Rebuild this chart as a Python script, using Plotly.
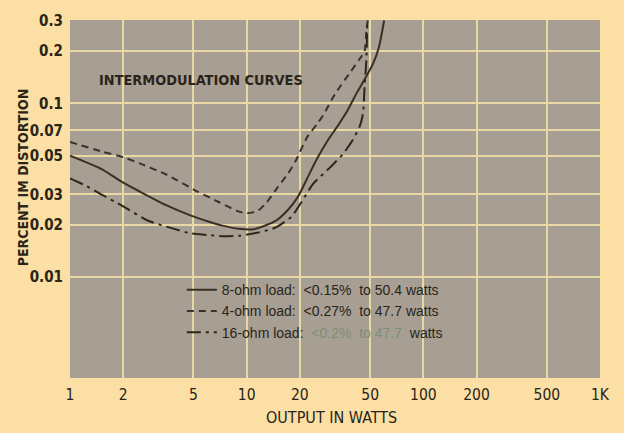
import numpy as np
import plotly.graph_objects as go

# ---- data ----
w_8ohm = [1, 1.5, 2, 2.5, 3.5, 4.8, 6, 7.3, 9, 11, 14.5, 17, 19.5, 22, 25, 29, 33, 37, 42, 47, 52, 56, 60]
d_8ohm = [0.050, 0.042, 0.035, 0.031, 0.026, 0.0227, 0.021, 0.0198, 0.019, 0.0189, 0.021, 0.0242,
          0.029, 0.037, 0.048, 0.062, 0.075, 0.09, 0.115, 0.14, 0.17, 0.21, 0.30]

w_4ohm = [1, 1.5, 2, 2.5, 3.5, 5.3, 7, 8.9, 10, 11.5, 13, 15, 17, 19, 22, 25, 27, 31.6, 38, 43.6, 46.5, 47.7, 48.5]
d_4ohm = [0.060, 0.053, 0.049, 0.045, 0.039, 0.031, 0.027, 0.024, 0.0233, 0.024, 0.027, 0.033,
          0.039, 0.047, 0.064, 0.076, 0.085, 0.113, 0.148, 0.18, 0.20, 0.27, 0.30]

w_16ohm = [1, 1.2, 1.5, 2, 2.75, 3.8, 4.8, 6, 7.3, 9, 11.4, 14, 15, 18, 20.5, 23.7, 30, 35, 40,
           43.8, 45.6, 46.5, 47.6, 48.1, 48.3]
d_16ohm = [0.037, 0.034, 0.030, 0.0256, 0.0212, 0.0191, 0.0179, 0.0175, 0.0172, 0.0173, 0.018,
           0.019, 0.0196, 0.0224, 0.0272, 0.0343, 0.0433, 0.051, 0.062, 0.0746, 0.088, 0.125,
           0.178, 0.27, 0.30]

names = [
    "8-ohm load:  &lt;0.15%  to 50.4 watts",
    "4-ohm load:  &lt;0.27%  to 47.7 watts",
    "16-ohm load: <span style='color:#7d8f72'> &lt;0.2%  to 47.7 </span> watts",
]

x_tickvals = [1, 2, 5, 10, 20, 50, 100, 200, 500, 1000]
x_ticktext = ["1", "2", "5", "10", "20", "50", "100", "200", "500", "1K"]
y_tickvals = [0.3, 0.2, 0.1, 0.07, 0.05, 0.03, 0.02, 0.01]
y_ticktext = ["0.3", "0.2", "0.1", "0.07", "0.05", "0.03", "0.02", "0.01"]

INK = "#2b2418"
PAPER = "#fbdfa4"
PLOTBG = "#a89f94"
GRID = "#e8d9a2"
COND = "DejaVu Sans Condensed, Liberation Sans Narrow, sans-serif"
SANS = "Liberation Sans, Arial, sans-serif"

fig = go.Figure()
fig.add_trace(go.Scatter(x=w_8ohm, y=d_8ohm, mode="lines", name=names[0],
                         line=dict(color="#3a2f22", width=2, shape="spline", smoothing=0.6)))
fig.add_trace(go.Scatter(x=w_4ohm, y=d_4ohm, mode="lines", name=names[1],
                         line=dict(color="#3a3128", width=2, dash="7px,5px", shape="spline", smoothing=0.6)))
fig.add_trace(go.Scatter(x=w_16ohm, y=d_16ohm, mode="lines", name=names[2],
                         line=dict(color="#2e261b", width=2, dash="14px,5px,3px,5px", shape="spline", smoothing=0.6)))

fig.update_layout(
    width=624, height=433,
    margin=dict(l=70, r=24, t=14, b=55),
    paper_bgcolor=PAPER, plot_bgcolor=PLOTBG,
    showlegend=True,
    legend=dict(x=0.211, y=0.29, xanchor="left", yanchor="top",
                bgcolor="rgba(0,0,0,0)", borderwidth=0,
                font=dict(family=SANS, size=14, color=INK),
                tracegroupgap=0, itemwidth=30),
    xaxis=dict(type="log", range=[0, 3], tickvals=x_tickvals, ticktext=x_ticktext,
               showgrid=True, gridcolor=GRID, gridwidth=2, zeroline=False, showline=False,
               ticks="", ticklabelstandoff=5,
               tickfont=dict(family=COND, size=15.5, color=INK)),
    yaxis=dict(type="log", range=[-2.58, -0.52], tickvals=y_tickvals, ticktext=y_ticktext,
               showgrid=True, gridcolor=GRID, gridwidth=2, zeroline=False, showline=False,
               ticks="", ticklabelstandoff=6,
               tickfont=dict(family=COND, size=15, color=INK, weight="bold")),
)

fig.add_annotation(text="INTERMODULATION CURVES", xref="paper", yref="paper",
                   x=0.247, y=0.832, xanchor="center", yanchor="middle", showarrow=False,
                   font=dict(family=COND, size=14.4, color=INK, weight="bold"))
fig.add_annotation(text="PERCENT IM DISTORTION", xref="paper", yref="paper",
                   x=-0.089, y=0.56, xanchor="center", yanchor="middle", textangle=-90,
                   showarrow=False, font=dict(family=COND, size=14, color=INK, weight="bold"))
fig.add_annotation(text="OUTPUT IN WATTS", xref="paper", yref="paper",
                   x=0.4925, y=-0.11, xanchor="center", yanchor="middle", showarrow=False,
                   font=dict(family=COND, size=16, color=INK))

fig.write_html("out.html", config={"displayModeBar": False},
               post_script="document.body.style.margin='0';")
